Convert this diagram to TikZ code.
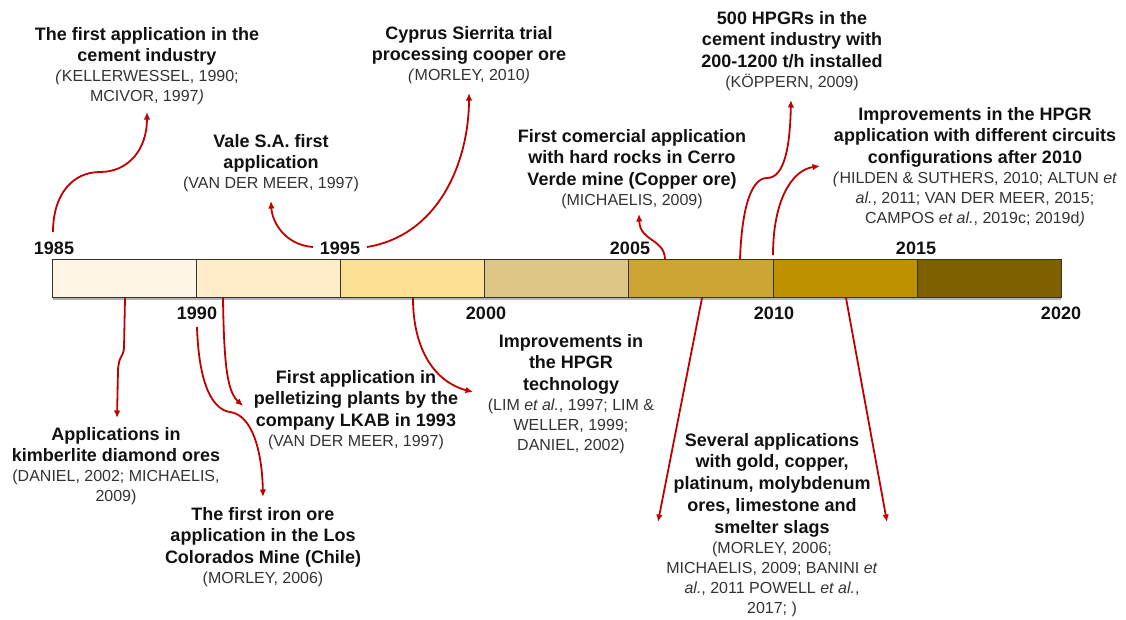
\documentclass[tikz,border=0pt]{standalone}
\usepackage{fontspec}
\setmainfont{Liberation Sans}
\usetikzlibrary{arrows.meta}

\definecolor{arrowred}{HTML}{C00000}
\definecolor{citegray}{HTML}{333333}
\definecolor{titleblack}{HTML}{111111}
\definecolor{segA}{HTML}{FFF5E4}
\definecolor{segB}{HTML}{FEEDC8}
\definecolor{segC}{HTML}{FCE094}
\definecolor{segD}{HTML}{DEC686}
\definecolor{segE}{HTML}{CDA535}
\definecolor{segF}{HTML}{BF9000}
\definecolor{segG}{HTML}{7F6000}

% one centred bold heading line / one citation line of a stacked label
\newcommand\tl[1]{\baselineskip=21.8pt\hbox to 0pt{\hss\fontsize{18}{21.8}\selectfont\bfseries\color{titleblack}#1\hss}}
\newcommand\ct[1]{\baselineskip=20pt\hbox to 0pt{\hss\fontsize{16}{20}\selectfont\color{citegray}#1\hss}}

\tikzset{
  seg/.style={draw=black!80, line width=0.9pt, minimum width=144.05pt, minimum height=38pt, inner sep=0pt},
  year/.style={anchor=base, inner sep=0pt, font=\fontsize{18}{22}\selectfont\bfseries, text=titleblack},
  event/.style={anchor=base, inner sep=0pt},
  arr/.style={draw=arrowred, line width=1.8pt, -{Latex[length=7.5pt,width=6.5pt]}},
}

\begin{document}
\begin{tikzpicture}[x=1pt, y=-1pt]
\useasboundingbox (0,0) rectangle (1126,619);

% ---- timeline bar, one segment per five years ----
\draw[gray!60, line width=1.5pt] (53,299) -- (1061,299);
\node[seg, fill=segA] (s1) at (124.75,278.3) {};
\node[seg, fill=segB] (s2) at (268.80,278.3) {};
\node[seg, fill=segC] (s3) at (412.85,278.3) {};
\node[seg, fill=segD] (s4) at (556.90,278.3) {};
\node[seg, fill=segE] (s5) at (700.95,278.3) {};
\node[seg, fill=segF] (s6) at (845.00,278.3) {};
\node[seg, fill=segG] (s7) at (989.05,278.3) {};

% ---- year labels ----
\node[year] (y1985) at (54,254) {1985};
\node[year] (y1990) at (197,319) {1990};
\node[year] (y1995) at (340,254) {1995};
\node[year] (y2000) at (486,319) {2000};
\node[year] (y2005) at (630,254) {2005};
\node[year] (y2010) at (774,319) {2010};
\node[year] (y2015) at (916,254) {2015};
\node[year] (y2020) at (1061,319) {2020};

% ---- events above the bar ----
\node[event] (cement) at (147,40) {\vtop{%
  \tl{The first application in the}
  \tl{cement industry}
  \ct{\textit{(}KELLERWESSEL, 1990;}
  \ct{MCIVOR, 1997\textit{)}}}};
\node[event] (vale) at (271,147) {\vtop{%
  \tl{Vale S.A. first}
  \tl{application}
  \ct{(VAN DER MEER, 1997)}}};
\node[event] (cyprus) at (469,39) {\vtop{%
  \tl{Cyprus Sierrita trial}
  \tl{processing cooper ore}
  \ct{\textit{(}MORLEY, 2010\textit{)}}}};
\node[event] (hpgr500) at (792,24) {\vtop{%
  \tl{500 HPGRs in the}
  \tl{cement industry with}
  \tl{200-1200 t/h installed}
  \ct{(KÖPPERN, 2009)}}};
\node[event] (cerro) at (632,142) {\vtop{%
  \tl{First comercial application}
  \tl{with hard rocks in Cerro}
  \tl{Verde mine (Copper ore)}
  \ct{(MICHAELIS, 2009)}}};
\node[event] (circuits) at (975,120) {\vtop{%
  \tl{Improvements in the HPGR}
  \tl{application with different circuits}
  \tl{configurations after 2010}
  \ct{\textit{(}HILDEN \& SUTHERS, 2010; ALTUN \textit{et}}
  \ct{\textit{al.}, 2011; VAN DER MEER, 2015;}
  \ct{CAMPOS \textit{et al.}, 2019c; 2019d\textit{)}}}};

% ---- events below the bar ----
\node[event] (kimber) at (116,440) {\vtop{%
  \tl{Applications in}
  \tl{kimberlite diamond ores}
  \ct{(DANIEL, 2002; MICHAELIS,}
  \ct{2009)}}};
\node[event] (lkab) at (356,383) {\vtop{%
  \tl{First application in}
  \tl{pelletizing plants by the}
  \tl{company LKAB in 1993}
  \ct{(VAN DER MEER, 1997)}}};
\node[event] (iron) at (263,520) {\vtop{%
  \tl{The first iron ore}
  \tl{application in the Los}
  \tl{Colorados Mine (Chile)}
  \ct{(MORLEY, 2006)}}};
\node[event] (tech) at (571,347) {\vtop{%
  \tl{Improvements in}
  \tl{the HPGR}
  \tl{technology}
  \ct{(LIM \textit{et al.}, 1997; LIM \&}
  \ct{WELLER, 1999;}
  \ct{DANIEL, 2002)}}};
\node[event] (several) at (772,446) {\vtop{%
  \tl{Several applications}
  \tl{with gold, copper,}
  \tl{platinum, molybdenum}
  \tl{ores, limestone and}
  \tl{smelter slags}
  \ct{(MORLEY, 2006;}
  \ct{MICHAELIS, 2009; BANINI \textit{et}}
  \ct{\textit{al.}, 2011 POWELL \textit{et al.},}
  \ct{2017; )}}};

% ---- connector end points ----
\coordinate (a1s) at (53,232);   \coordinate (a1e) at (147,112);
\coordinate (a2s) at (313,247);  \coordinate (a2e) at (271,201);
\coordinate (a3s) at (367,247);  \coordinate (a3e) at (469,93);
\coordinate (a4s) at (665,259);  \coordinate (a4e) at (639,214);
\coordinate (a5s) at (740,259);  \coordinate (a5e) at (791,100);
\coordinate (a6s) at (773,255);  \coordinate (a6e) at (820,166);
\coordinate (b1s) at (125,298);  \coordinate (b1e) at (117,418);
\coordinate (b2s) at (197,327);  \coordinate (b2e) at (263,497);
\coordinate (b3s) at (223,298);  \coordinate (b3e) at (243,406);
\coordinate (b4s) at (413,298);  \coordinate (b4e) at (473,392);
\coordinate (b5s) at (702,298);  \coordinate (b5e) at (658,522);
\coordinate (b6s) at (846,298);  \coordinate (b6e) at (887,522);

% ---- connectors above ----
\draw[arr] (a1s) .. controls (53,195) and (72,172) .. (100,172)
                 .. controls (128,172) and (147,150) .. (a1e);
\draw[arr] (a2s) .. controls (285,245) and (272,222) .. (a2e);
\draw[arr] (a3s) .. controls (440,235) and (469,160) .. (a3e);
\draw[arr] (a4s) .. controls (664,238) and (640,242) .. (a4e);
\draw[arr] (a5s) .. controls (742,205) and (752,178) .. (767,178)
                 .. controls (785,178) and (790,145) .. (a5e);
\draw[arr] (a6s) .. controls (773,200) and (792,170) .. (a6e);

% ---- connectors below ----
\draw[arr] (b1s) -- (124,348) .. controls (123,358) and (119,355) .. (118,370) -- (b1e);
\draw[arr] (b2s) .. controls (199,390) and (215,410) .. (230,412)
                 .. controls (252,415) and (262,450) .. (b2e);
\draw[arr] (b3s) .. controls (224,370) and (228,392) .. (b3e);
\draw[arr] (b4s) .. controls (413,350) and (435,382) .. (b4e);
\draw[arr] (b5s) -- (b5e);
\draw[arr] (b6s) -- (b6e);
\end{tikzpicture}
\end{document}
